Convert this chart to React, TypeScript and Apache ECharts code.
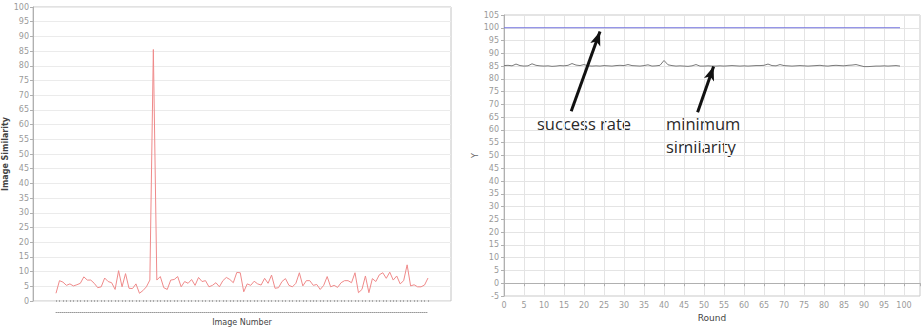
import React, { useEffect, useRef } from "react";
import * as echarts from "echarts";

// Left panel: similarity per image
const imageSimilarity: number[] = [
  2.3, 6.6, 6.1, 5, 5.5, 4.8, 5.2, 5.7, 7.9, 6.8, 6.8, 5.7, 4.2, 4.5, 7.5, 6.3, 5.9, 3.6, 10, 4.5,
  9, 4, 3.9, 5.5, 2.3, 3.2, 4.5, 6.8, 85.5, 6.8, 8, 4.2, 3.6, 6.8, 7, 8, 4.5, 6.3, 5.7, 7,
  5, 7.7, 6.3, 6.6, 4.5, 5, 5.9, 4.5, 6.6, 7.7, 7, 5.9, 9.4, 9.3, 2.8, 5.5, 5, 6.4, 5.5, 5.1,
  7.4, 5.7, 8.5, 4, 4.2, 6.3, 7.3, 5, 4.5, 5.7, 9.3, 4.8, 6.6, 6.6, 5, 5.3, 3.6, 5, 8, 4.5,
  5, 4.3, 5.9, 6.6, 6.6, 5.9, 9.3, 2.5, 3.6, 8.2, 2.5, 7.3, 6.3, 8.6, 9.3, 7.4, 9.5, 6.8, 8.2, 5.5,
  6.6, 12, 4.8, 5.2, 4.5, 4.5, 5.1, 7.5,
];
const imageNumbers: string[] = imageSimilarity.map((_, i) => String(i + 1));

// Right panel: per-round success rate and minimum similarity
const successRate: number[] = [
  100, 100, 100, 100, 100, 100, 100, 100, 100, 100, 100, 100, 100, 100, 100, 100, 100, 100, 100, 100,
  100, 100, 100, 100, 100, 100, 100, 100, 100, 100, 100, 100, 100, 100, 100, 100, 100, 100, 100, 100,
  100, 100, 100, 100, 100, 100, 100, 100, 100, 100, 100, 100, 100, 100, 100, 100, 100, 100, 100, 100,
  100, 100, 100, 100, 100, 100, 100, 100, 100, 100, 100, 100, 100, 100, 100, 100, 100, 100, 100, 100,
  100, 100, 100, 100, 100, 100, 100, 100, 100, 100, 100, 100, 100, 100, 100, 100, 100, 100, 100, 100,
];
const minimumSimilarity: number[] = [
  85.2, 85.3, 85.1, 85.8, 85.2, 85.0, 85.1, 85.9, 85.3, 85.1, 85.0, 85.1, 84.9, 85.0, 85.2, 85.1, 85.3, 86.0, 85.4, 85.2,
  85.6, 85.1, 85.0, 85.1, 85.0, 85.2, 85.1, 85.0, 85.2, 85.3, 85.2, 85.6, 85.2, 85.1, 85.0, 85.2, 85.5, 85.0, 85.1, 85.3,
  87.2, 85.5, 85.2, 85.0, 85.1, 85.0, 84.9, 85.1, 85.6, 85.0, 85.0, 85.1, 85.0, 85.0, 85.1, 85.0, 85.1, 85.2, 85.1, 85.0,
  85.1, 85.0, 85.1, 85.2, 85.2, 85.3, 85.8, 85.2, 85.1, 85.6, 85.2, 85.1, 85.0, 85.1, 85.2, 85.1, 85.0, 85.1, 85.2, 85.3,
  85.1, 85.0, 85.2, 85.3, 85.2, 85.1, 85.3, 85.4, 85.6, 85.2, 84.8, 84.8, 84.9, 85.0, 85.0, 85.1, 85.0, 85.1, 85.2, 85.0,
];
const rounds: number[] = minimumSimilarity.map((_, i) => i);

const FONT = "DejaVu Sans";
const LABEL = { color: "#9a9a9a", fontSize: 8, fontFamily: FONT };
const NOTE_FONT = "16.5px 'Open Sans'";

export default function App() {
  const ref = useRef<HTMLDivElement>(null);

  useEffect(() => {
    if (!ref.current) return;
    const chart = echarts.init(ref.current, null, { renderer: "svg" });

    const option: echarts.EChartsOption = {
      animation: false,
      backgroundColor: "#ffffff",
      grid: [
        // left frame (border, y scale, gridlines)
        { left: 33, top: 7, width: 418, height: 294, show: true, borderColor: "#c4c4c4", borderWidth: 1 },
        // left data area, inset horizontally
        { left: 56, top: 7, width: 372, height: 294 },
        // right panel
        { left: 504, top: 15, width: 416, height: 281, show: true, borderColor: "#c8c8c8", borderWidth: 1 },
      ],
      xAxis: [
        { gridIndex: 0, type: "value", min: 0, max: 1, show: false },
        {
          gridIndex: 1,
          type: "category",
          data: imageNumbers,
          boundaryGap: false,
          axisLine: { show: false },
          axisTick: { show: true, interval: 0, length: 2, inside: false, lineStyle: { color: "#aaaaaa" } },
          axisLabel: { show: false },
          splitLine: { show: false },
          name: "Image Number",
          nameLocation: "middle",
          nameGap: 18,
          nameTextStyle: { color: "#444", fontSize: 8, fontFamily: FONT },
        },
        {
          gridIndex: 1,
          type: "category",
          data: imageNumbers,
          position: "bottom",
          offset: 12,
          boundaryGap: false,
          axisLine: { show: true, lineStyle: { color: "#999", type: [1, 1] } },
          axisTick: { show: false },
          axisLabel: { show: false },
        },
        {
          gridIndex: 2,
          type: "value",
          min: 0,
          max: 104,
          interval: 5,
          axisLine: { show: true, lineStyle: { color: "#b0b0b0" } },
          axisTick: { show: true, length: 3, lineStyle: { color: "#b0b0b0" } },
          axisLabel: { ...LABEL, margin: 5, formatter: (v: number) => (v > 100 ? "" : String(v)) },
          splitLine: { show: true, lineStyle: { color: "#e4e4e4" } },
          name: "Round",
          nameLocation: "middle",
          nameGap: 15,
          nameTextStyle: { color: "#444", fontSize: 9, fontFamily: FONT },
        },
      ],
      yAxis: [
        {
          gridIndex: 0,
          type: "value",
          min: 0,
          max: 100,
          interval: 5,
          axisLine: { show: true, lineStyle: { color: "#b0b0b0" } },
          axisTick: { show: true, length: 3, lineStyle: { color: "#b0b0b0" } },
          axisLabel: { ...LABEL, margin: 4 },
          splitLine: { show: true, lineStyle: { color: "#ebebeb" } },
          name: "Image Similarity",
          nameLocation: "middle",
          nameGap: 20,
          nameTextStyle: { color: "#444", fontSize: 8, fontFamily: FONT, fontWeight: "bold" },
        },
        { gridIndex: 1, type: "value", min: 0, max: 100, show: false },
        {
          gridIndex: 2,
          type: "value",
          min: -5,
          max: 105,
          interval: 5,
          axisLine: { show: true, lineStyle: { color: "#b0b0b0" } },
          axisTick: { show: true, length: 3, lineStyle: { color: "#b0b0b0" } },
          axisLabel: { ...LABEL, margin: 5 },
          splitLine: { show: true, lineStyle: { color: "#e4e4e4" } },
          name: "Y",
          nameLocation: "middle",
          nameGap: 24,
          nameTextStyle: { color: "#666", fontSize: 8, fontFamily: FONT },
        },
      ],
      series: [
        {
          type: "line",
          xAxisIndex: 1,
          yAxisIndex: 1,
          data: imageSimilarity,
          showSymbol: false,
          lineStyle: { color: "#ef8a8a", width: 1 },
        },
        {
          name: "success rate",
          type: "line",
          xAxisIndex: 3,
          yAxisIndex: 2,
          data: rounds.map((r, i) => [r, successRate[i]]),
          showSymbol: false,
          lineStyle: { color: "#7474e0", width: 1.2 },
          markLine: {
            silent: true,
            symbol: ["none", "arrow"],
            symbolSize: [8, 14],
            label: { show: false },
            lineStyle: { color: "#111", width: 3, type: "solid" },
            data: [
              [{ coord: [16.8, 67.3] }, { coord: [24, 98.5] }],
              [{ coord: [48.4, 66.9] }, { coord: [52.4, 84.8] }],
            ],
          },
        },
        {
          name: "minimum similarity",
          type: "line",
          xAxisIndex: 3,
          yAxisIndex: 2,
          data: rounds.map((r, i) => [r, minimumSimilarity[i]]),
          showSymbol: false,
          lineStyle: { color: "#7a7a7a", width: 1 },
        },
      ],
      graphic: [
        {
          type: "text",
          left: 537,
          top: 115,
          style: { text: "success rate", fill: "#2a2a2a", font: NOTE_FONT },
        },
        {
          type: "text",
          left: 666,
          top: 115,
          style: { text: "minimum", fill: "#2a2a2a", font: NOTE_FONT },
        },
        {
          type: "text",
          left: 666,
          top: 138,
          style: { text: "similarity", fill: "#2a2a2a", font: NOTE_FONT },
        },
      ],
    };

    chart.setOption(option);
    return () => chart.dispose();
  }, []);

  return (
    <div
      ref={ref}
      style={{ position: "fixed", left: 0, top: 0, width: 923, height: 331, background: "#fff" }}
    />
  );
}
